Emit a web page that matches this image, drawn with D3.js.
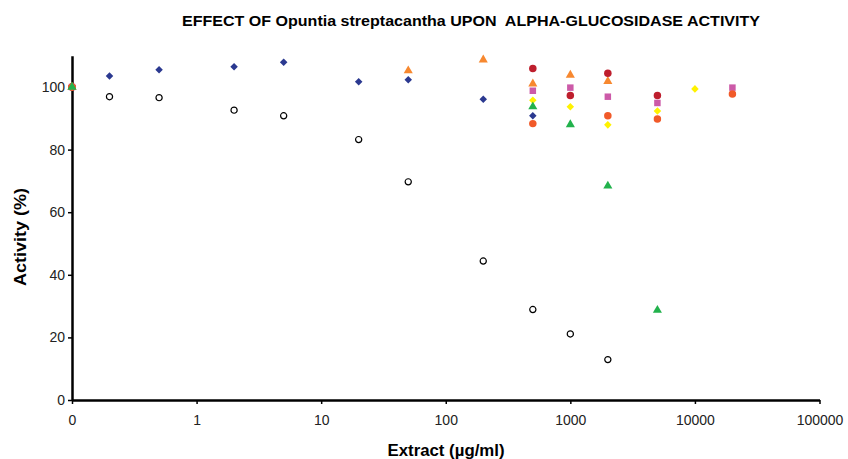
<!DOCTYPE html>
<html>
<head>
<meta charset="utf-8">
<script src="https://cdn.jsdelivr.net/npm/d3@7"></script>
<style>
  body { margin: 0; background: #fff; }
  text { font-family: "Liberation Sans", Arial, sans-serif; }
</style>
</head>
<body>
<svg width="848" height="459"></svg>
<script>
// extract concentrations (0.1 stands for the "0" control on the log axis)
var xTicks = [0.1, 1, 10, 100, 1000, 10000, 100000];
var yTicks = [0, 20, 40, 60, 80, 100];

var blueX = [0.1, 0.2, 0.5, 2, 5, 20, 50, 200, 500];
var blueY = [100, 103.5, 105.5, 106.5, 107.9, 101.7, 102.3, 96.1, 90.8];

var openX = [0.1, 0.2, 0.5, 2, 5, 20, 50, 200, 500, 1000, 2000];
var openY = [100, 96.9, 96.6, 92.6, 90.8, 83.2, 69.7, 44.4, 28.9, 21.1, 12.9];

var orangeTriX = [0.1, 50, 200, 500, 1000, 2000];
var orangeTriY = [100, 105.2, 108.7, 101.0, 103.8, 101.8];

var redCircX = [0.1, 500, 1000, 2000, 5000];
var redCircY = [100, 105.9, 97.3, 104.4, 97.3];

var pinkSqX = [0.1, 500, 1000, 2000, 5000, 20000];
var pinkSqY = [100, 98.8, 99.8, 96.9, 94.9, 99.8];

var yellowX = [0.1, 500, 1000, 2000, 5000, 10000];
var yellowY = [100, 95.8, 93.7, 87.9, 92.3, 99.4];

var orangeCircX = [0.1, 500, 2000, 5000, 20000];
var orangeCircY = [100, 88.3, 90.8, 89.8, 97.8];

var greenTriX = [0.1, 500, 1000, 2000, 5000];
var greenTriY = [100, 93.7, 88.0, 68.4, 28.7];

var series = [
  {xs: blueX, ys: blueY, shape: d3.symbolDiamond2, size: 36, fill: "#2B3990", stroke: "none"},
  {xs: openX, ys: openY, shape: d3.symbolCircle, size: 30, fill: "#fff", stroke: "#000"},
  {xs: orangeTriX, ys: orangeTriY, shape: d3.symbolTriangle, size: 36, fill: "#F7882F", stroke: "none"},
  {xs: redCircX, ys: redCircY, shape: d3.symbolCircle, size: 44, fill: "#BE1E2D", stroke: "none"},
  {xs: pinkSqX, ys: pinkSqY, shape: d3.symbolSquare, size: 42, fill: "#CC5AA8", stroke: "none"},
  {xs: yellowX, ys: yellowY, shape: d3.symbolDiamond2, size: 36, fill: "#FFF200", stroke: "none"},
  {xs: orangeCircX, ys: orangeCircY, shape: d3.symbolCircle, size: 44, fill: "#F15A29", stroke: "none"},
  {xs: greenTriX, ys: greenTriY, shape: d3.symbolTriangle, size: 36, fill: "#22B24C", stroke: "none"}
];

var svg = d3.select("svg");

var x = d3.scaleLog().domain([0.1, 100000]).range([72, 819.5]);
var y = d3.scaleLinear().domain([0, 110]).range([400, 55.7]);

svg.append("text")
  .attr("x", 471).attr("y", 26)
  .attr("text-anchor", "middle")
  .attr("textLength", 578).attr("lengthAdjust", "spacingAndGlyphs")
  .style("font-size", "15px").style("font-weight", "bold")
  .style("white-space", "pre")
  .text("EFFECT OF Opuntia streptacantha UPON  ALPHA-GLUCOSIDASE ACTIVITY");

var xAxis = svg.append("g")
  .attr("transform", "translate(0,400)")
  .call(d3.axisBottom(x).tickValues(xTicks).tickSize(4).tickSizeOuter(0)
    .tickFormat(function(d) { return d < 1 ? "0" : d3.format("d")(d); }));

var yAxis = svg.append("g")
  .attr("transform", "translate(72,0)")
  .call(d3.axisLeft(y).tickValues(yTicks).tickSize(4).tickSizeOuter(0));

[xAxis, yAxis].forEach(function(g) {
  g.select(".domain").attr("stroke", "#000").attr("stroke-width", 2.5);
  g.selectAll(".tick line").attr("stroke", "#000").attr("stroke-width", 1.5);
  g.selectAll(".tick text").attr("fill", "#222")
    .style("font-size", "14px").style("font-family", "'Liberation Sans', Arial, sans-serif");
});
xAxis.selectAll(".tick text").attr("dy", "1.3em");
yAxis.selectAll(".tick text").attr("x", -7);

svg.append("text")
  .attr("x", 446).attr("y", 456)
  .attr("text-anchor", "middle")
  .attr("textLength", 117).attr("lengthAdjust", "spacingAndGlyphs")
  .style("font-size", "16px").style("font-weight", "bold")
  .text("Extract (\u00b5g/ml)");

svg.append("text")
  .attr("transform", "translate(26,237) rotate(-90)")
  .attr("text-anchor", "middle")
  .attr("textLength", 98).attr("lengthAdjust", "spacingAndGlyphs")
  .style("font-size", "16px").style("font-weight", "bold")
  .text("Activity (%)");

series.forEach(function(s) {
  var pts = s.xs.map(function(v, i) { return [v, s.ys[i]]; });
  svg.append("g").selectAll("path").data(pts).enter()
    .append("path")
      .attr("d", d3.symbol().type(s.shape).size(s.size))
      .attr("transform", function(d) { return "translate(" + x(d[0]) + "," + y(d[1]) + ")"; })
      .attr("fill", s.fill)
      .attr("stroke", s.stroke)
      .attr("stroke-width", 1.2);
});
</script>
</body>
</html>
